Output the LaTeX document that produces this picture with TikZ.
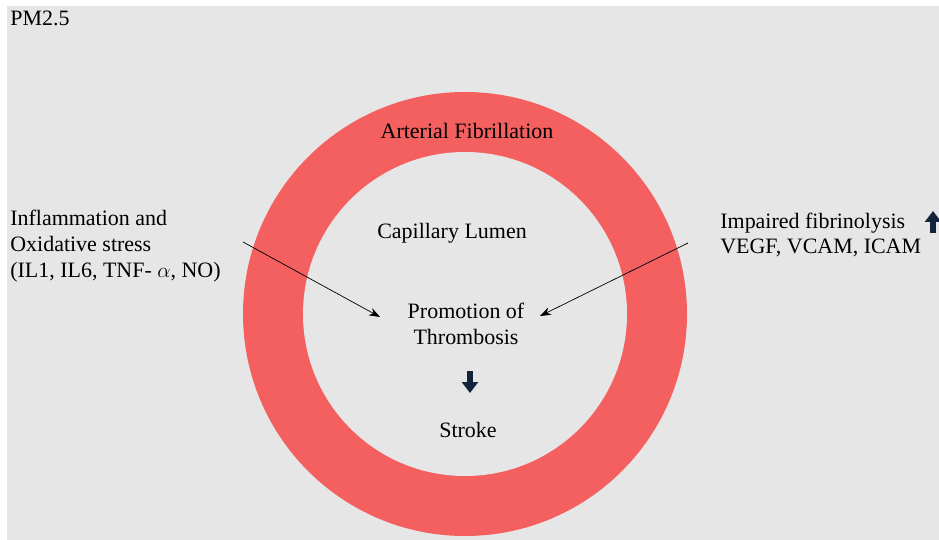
\documentclass[tikz,border=0pt]{standalone}
\usepackage{fontspec}
\setmainfont{Liberation Serif}
\usepackage{tikz}
\usetikzlibrary{arrows.meta,positioning}
\definecolor{Bg}{HTML}{E6E6E6}
\definecolor{Ring}{HTML}{F45F5F}
\definecolor{Navy}{HTML}{14233C}

\begin{document}
\begin{tikzpicture}[x=0.02cm,y=-0.02cm,
      txt/.style={font=\fontsize{12.5}{14.6}\selectfont,inner sep=0pt,align=left},
      link/.style={-{Stealth[length=2.2mm,width=1.6mm]},thin,black},
      blockarrow/.style={-{Triangle[length=2.2mm,width=3.2mm]},line width=1.3mm,Navy}
    ]
      \useasboundingbox (0,0) rectangle (939,540);
      \fill[Bg] (7,6) rectangle (939,540);
      % vessel wall
      \fill[Ring] (465,314) circle (222);
      \fill[Bg] (465,314) circle (162);
      \node[txt,anchor=west] (pm) at (10,18) {PM2.5};
      \node[txt] (wall) at (467,131) {Arterial Fibrillation};
      \node[txt] (lumen) at (452,233) {Capillary Lumen};
      \node[txt,align=center] (promo) at (466,324) {Promotion of\\Thrombosis};
      \node[txt] (stroke) at (468,430) {Stroke};
      \node[txt,anchor=west] (infl) at (10,246)
        {Inflammation and\\Oxidative stress\\(IL1, IL6, TNF- $\alpha$, NO)};
      \node[txt,anchor=west] (fibr) at (720,235)
        {Impaired fibrinolysis\\VEGF, VCAM, ICAM};
      \coordinate (lin) at (243,242);
      \coordinate (lout) at (380,317);
      \coordinate (rin) at (688,243);
      \coordinate (rout) at (540,316);
      \draw[link] (lin) -- (lout);
      \draw[link] (rin) -- (rout);
      \coordinate (dtop) at (470,371);
      \coordinate (dbot) at (470,393);
      \draw[blockarrow] (dtop) -- (dbot);
      \coordinate (ubot) at (933,233);
      \coordinate (utop) at (933,211);
      \draw[blockarrow] (ubot) -- (utop);
    \end{tikzpicture}
\end{document}
